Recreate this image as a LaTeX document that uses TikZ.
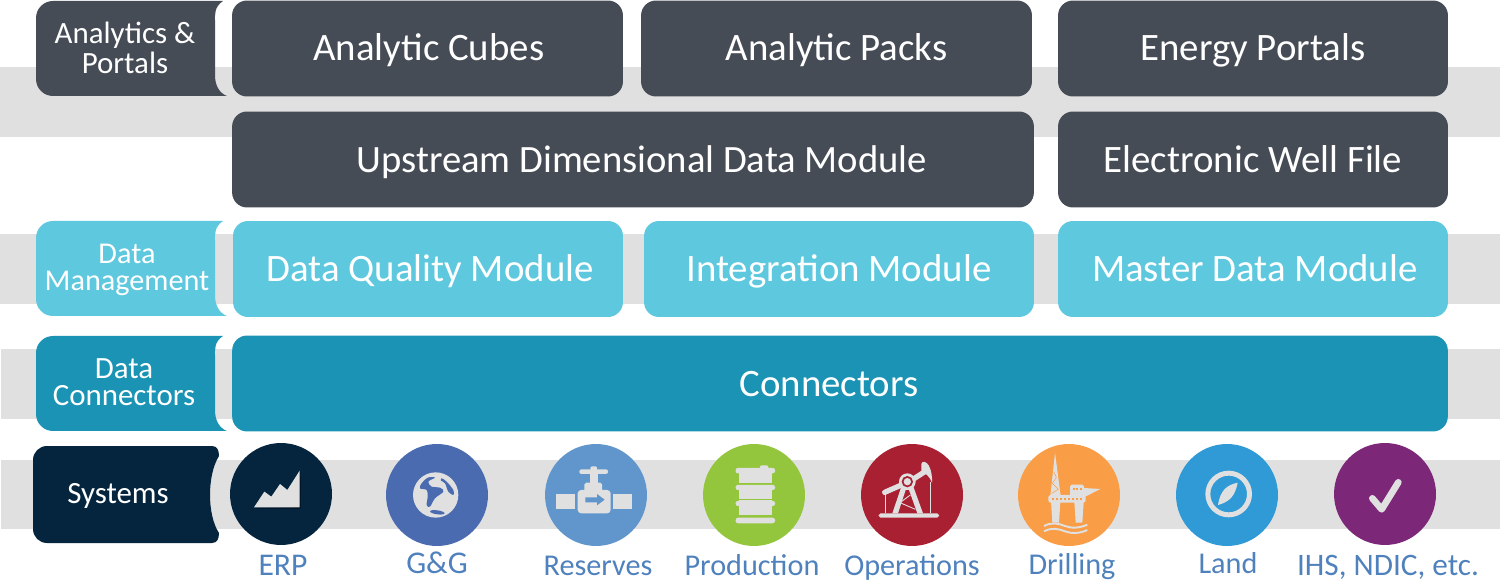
\documentclass[tikz,border=0pt]{standalone}
\usepackage{fontspec}
\setmainfont{Carlito}
\definecolor{slatebox}{HTML}{464C55}
\definecolor{skybox}{HTML}{5DC8DE}
\definecolor{tealbox}{HTML}{1A93B4}
\definecolor{navybox}{HTML}{05253F}
\definecolor{bandgray}{HTML}{E0E0E0}
\definecolor{captionblue}{HTML}{4F81BD}
\definecolor{ggblue}{RGB}{74,107,176}
\definecolor{valveblue}{RGB}{97,150,204}
\definecolor{barrelgreen}{RGB}{148,198,61}
\definecolor{pumpred}{RGB}{169,32,51}
\definecolor{rigorange}{RGB}{249,157,71}
\definecolor{landblue}{RGB}{47,154,214}
\definecolor{ihspurple}{RGB}{124,39,119}
\tikzset{
    modbox/.style={draw=none, rounded corners=8.5pt, text=white, font=\fontsize{22.1}{24}\selectfont, inner sep=0pt, minimum height=96*0.569pt, text height=16pt, text depth=1.2pt},
    toprow/.style={text height=14.3pt},
    sidetext/.style={text=white, align=center, font=\fontsize{17.6}{15.4}\selectfont},
    syscircle/.style={circle, draw=none, minimum size=102*0.569pt, inner sep=0pt},
    captiontext/.style={text=captionblue, anchor=base, font=\fontsize{17.2}{18}\selectfont},
    iconzoom/.style={shift={#1}, x=0.00667cm, y=-0.00667cm, every path/.append style={bandgray, fill=bandgray, draw=none}}
}
\newcommand{\sidetab}[2]{% top y, fill colour
    \fill [#2] (36,-#1-17) arc (180:90:17) -- (223,-#1) .. controls (214,-#1-6) and (215,-#1-14) .. (215,-#1-20) -- (215,-#1-74) .. controls (215,-#1-84) and (219,-#1-92) .. (227,-#1-95) -- (53,-#1-95) arc (270:180:17) -- cycle;
}
\begin{document}
\begin{tikzpicture}[x=0.02cm, y=0.02cm]
    \useasboundingbox (0,0) rectangle (1500,-580);

    % bands
    \fill [bandgray] (0,-67) rectangle (1500,-137);
    \fill [bandgray] (0,-234) rectangle (1500,-304);
    \fill [bandgray] (1,-349) rectangle (1500,-419);
    \fill [bandgray] (1,-460) rectangle (1500,-529);

    % left tabs
    \sidetab{1}{slatebox}
    \sidetab{221}{skybox}
    \sidetab{336}{tealbox}
    \fill [navybox] (33,-460) arc (180:90:14) -- (212,-446) .. controls (217,-446) and (219,-450) .. (219,-456) .. controls (207,-475) and (207,-515) .. (219,-533) .. controls (219,-539) and (217,-543) .. (212,-543) -- (47,-543) arc (270:180:14) -- cycle;

    \node [sidetext, font=\fontsize{17.6}{17}\selectfont] (tabanalytics) at (125,-48) {Analytics \&\\Portals};
    \node [sidetext, font=\fontsize{17.2}{15.4}\selectfont] (tabmanagement) at (127,-270) {Data\\Management};
    \node [sidetext] (tabconnectors) at (124,-382) {Data\\Connectors};
    \node [sidetext] (tabsystems) at (118,-496) {Systems};

    % modules
    \node [modbox, toprow, fill=slatebox, minimum width=391*0.569pt] (cubes) at (427.5,-48.5) {\hspace*{1.5pt}Analytic Cubes};
    \node [modbox, toprow, fill=slatebox, minimum width=391*0.569pt] (packs) at (836.5,-48.5) {Analytic Packs};
    \node [modbox, toprow, fill=slatebox, minimum width=390*0.569pt] (portals) at (1253,-48.5) {Energy Portals};
    \node [modbox, font=\fontsize{22}{24}\selectfont, fill=slatebox, minimum width=802*0.569pt] (upstream) at (633,-159.5) {\hspace*{10pt}Upstream Dimensional Data Module};
    \node [modbox, fill=slatebox, minimum width=390*0.569pt] (wellfile) at (1253,-159.5) {Electronic Well File};
    \node [modbox, fill=skybox, minimum width=390*0.569pt] (quality) at (428,-269) {\hspace*{2.5pt}Data Quality Module};
    \node [modbox, fill=skybox, minimum width=390*0.569pt] (integration) at (839,-269) {Integration Module};
    \node [modbox, fill=skybox, minimum width=390*0.569pt] (master) at (1253,-269) {\hspace*{2pt}Master Data Module};
    \node [modbox, fill=tealbox, minimum width=1216*0.569pt] (connectors) at (840,-383.5) {Connectors\hspace*{12.5pt}};

    % system circles
    \node [syscircle, fill=navybox] (erp) at (281,-494) {};
    \node [syscircle, fill=ggblue] (gg) at (437,-495) {};
    \node [syscircle, fill=valveblue] (reserves) at (596,-495) {};
    \node [syscircle, fill=barrelgreen] (production) at (754,-495) {};
    \node [syscircle, fill=pumpred] (operations) at (912,-495) {};
    \node [syscircle, fill=rigorange] (drilling) at (1069,-495) {};
    \node [syscircle, fill=landblue] (land) at (1227,-495) {};
    \node [syscircle, fill=ihspurple] (ihs) at (1385,-494) {};

    % captions
    \node [captiontext, font=\fontsize{18}{18}\selectfont] (erpcap) at (283,-575) {ERP};
    \node [captiontext, font=\fontsize{18}{18}\selectfont] (ggcap) at (437,-573) {G\&G};
    \node [captiontext] (reservescap) at (598,-575) {Reserves};
    \node [captiontext] (productioncap) at (752,-575) {Production};
    \node [captiontext] (operationscap) at (912,-575) {Operations};
    \node [captiontext] (drillingcap) at (1072,-574) {Drilling};
    \node [captiontext] (landcap) at (1228,-573) {Land};
    \node [captiontext, font=\fontsize{17.8}{18}\selectfont] (ihscap) at (1388,-575) {IHS, NDIC, etc.};

    % chart icon
    \begin{scope}[iconzoom={(230,-440)}]
        \path [fill=black] (72,205) -- (211,205) -- (211,95) -- (209,202) -- cycle;
        \path (72,202) -- (103,155) -- (124,170) -- (150,132) -- (172,150) -- (209,92) -- (209,202) -- cycle;
    \end{scope}

    % globe icon
    \begin{scope}[iconzoom={(385,-440)}]
        \path (152,165) circle (68);
        \path [fill=ggblue] plot [smooth cycle, tension=0.6] coordinates {(128,113) (110,130) (105,145) (125,150) (128,170) (125,195) (135,200) (150,175) (175,155) (165,143) (140,140) (130,125) (150,113)};
        \path [fill=ggblue] plot [smooth cycle, tension=0.6] coordinates {(170,115) (185,125) (205,150) (205,165) (190,155) (180,130) (168,122)};
        \path [fill=ggblue, rotate around={-8:(157,217)}] (157,217) ellipse (22 and 6);
    \end{scope}

    % valve icon
    \begin{scope}[iconzoom={(542,-440)}]
        \path (43,161) rectangle (100,207);
        \path (214,161) rectangle (270,207);
        \path [rounded corners=2pt] (107,150) rectangle (206,220);
        \path [rounded corners=1pt] (127,160) rectangle (180,128);
        \path (143,130) rectangle (167,100);
        \path [rounded corners=1.2pt] (112,88) rectangle (198,102);
        \path [rounded corners=0.8pt] (145,79) rectangle (165,92);
        \path [fill=valveblue] (130,172) -- (165,172) -- (165,162) -- (188,179) -- (165,196) -- (165,187) -- (130,187) -- cycle;
    \end{scope}

    % barrel icon
    \begin{scope}[iconzoom={(700,-440)}]
        \path (117,90) rectangle (215,128);
        \path (117,134) rectangle (215,176);
        \path (117,181) rectangle (215,226);
        \path [rounded corners=1.2pt] (107,84) rectangle (225,100);
        \path [rounded corners=1.2pt] (107,135) rectangle (225,150);
        \path [rounded corners=1.2pt] (107,183) rectangle (225,198);
        \path [rounded corners=1.4pt] (107,233) rectangle (225,250);
        \path [rounded corners=0.8pt] (180,76) rectangle (205,88);
    \end{scope}

    % pump jack icon
    \begin{scope}[iconzoom={(858,-440)}]
        \path [rounded corners=1pt] (62,220) rectangle (243,233);
        \path (103,220) -- (130,140) -- (166,140) -- (195,220) -- (178,220) -- (153,150) -- (143,150) -- (120,220) -- cycle;
        \path [draw=bandgray, line width=0.55pt, fill=none] (82,160) -- (82,220);
        \path [draw=bandgray, line width=0.55pt, fill=none] (218,125) -- (218,220);
        \path [draw=bandgray, line width=0.5pt, fill=none] (126,188) -- (172,208);
        \path [draw=bandgray, line width=0.5pt, fill=none] (126,188) -- (157,165);
        \path [draw=bandgray, line width=3pt, line cap=round, fill=none] (80,157) -- (128,136);
        \path [draw=bandgray, line width=3pt, fill=none] (168,116) -- (205,92);
        \path (190,72) .. controls (192,62) and (205,64) .. (212,76) .. controls (220,90) and (223,110) .. (222,128) .. controls (215,110) and (205,100) .. (190,96) -- cycle;
        \path (148,125) circle (25);
        \path [fill=pumpred] (148,125) circle (17);
        \path (148,125) circle (11);
    \end{scope}

    % rig icon
    \begin{scope}[iconzoom={(1015,-440)}]
        \path (120,38) -- (137,168) -- (106,168) -- cycle;
        \path [draw=rigorange, line width=0.3pt, fill=none] (116,95) -- (124,112) -- (112,130) -- (130,148) -- (110,160);
        \path [rounded corners=1pt] (165,134) rectangle (207,170);
        \path (207,144) -- (256,147) -- (207,172) -- cycle;
        \path [rounded corners=1pt] (100,165) rectangle (212,188);
        \path (108,186) -- (136,186) -- (132,248) -- (112,248) -- cycle;
        \path (178,186) -- (206,186) -- (202,248) -- (182,248) -- cycle;
        \foreach \dotx in {112,124,136,148,160,172,184,196} {
            \path [fill=rigorange] (\dotx,175) rectangle +(6,5);
        }
        \foreach \dotx in {174,184,194} {
            \path [fill=rigorange] (\dotx,144) rectangle +(6,5);
        }
        \path [draw=bandgray, line width=1.1pt, fill=none] (87,258) .. controls (110,246) and (130,250) .. (150,258) .. controls (170,266) and (195,264) .. (217,254);
        \path [draw=bandgray, line width=1.1pt, fill=none] (87,274) .. controls (110,262) and (130,266) .. (150,274) .. controls (170,282) and (195,280) .. (217,270);
    \end{scope}

    % compass icon
    \begin{scope}[iconzoom={(1172,-440)}]
        \path [even odd rule] (170,162) circle (70) (170,162) circle (55);
        \path (138,195) .. controls (145,150) and (165,135) .. (197,128) .. controls (190,165) and (175,185) .. (138,195) -- cycle;
    \end{scope}

    % check icon
    \begin{scope}[iconzoom={(1330,-440)}]
        \path [draw=bandgray, line width=3.8pt, line cap=round, line join=round, fill=none] (127,175) -- (155,208) -- (205,127);
    \end{scope}
\end{tikzpicture}
\end{document}
